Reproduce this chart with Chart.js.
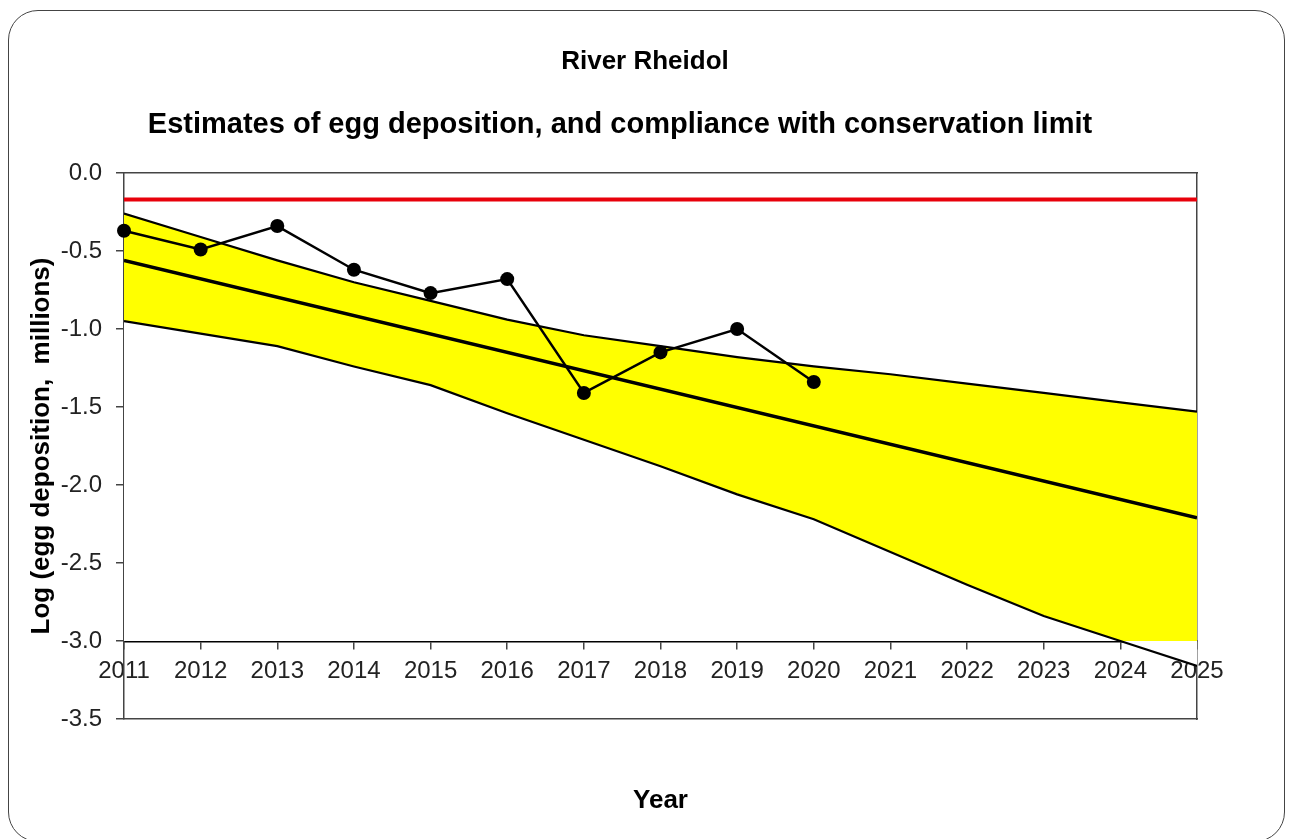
<!DOCTYPE html>
<html>
<head>
<meta charset="utf-8">
<script src="https://cdn.jsdelivr.net/npm/chart.js@4"></script>
<style>
  html, body { margin: 0; padding: 0; background: #fff; }
  #wrap { position: relative; width: 1293px; height: 839px; overflow: hidden; }
  #frame {
    position: absolute; left: 8px; top: 10px; width: 1275px; height: 830px;
    border: 1.5px solid #444; border-radius: 30px; pointer-events: none;
  }
  #eggChart { position: absolute; left: 0; top: 0; }
</style>
</head>
<body>
<div id="wrap">
  <canvas id="eggChart" width="1293" height="839"></canvas>
  <div id="frame"></div>
</div>
<script>
const riverName = "River Rheidol";
const chartTitle = "Estimates of egg deposition, and compliance with conservation limit";

// survey years and the projection out to 2025
const years = [2011, 2012, 2013, 2014, 2015, 2016, 2017, 2018, 2019, 2020, 2021, 2022, 2023, 2024, 2025];

// observed log egg deposition (millions)
const obsYears = [2011, 2012, 2013, 2014, 2015, 2016, 2017, 2018, 2019, 2020];
const obsValues = [-0.37, -0.49, -0.34, -0.62, -0.77, -0.68, -1.41, -1.15, -1.00, -1.34];

// confidence band around the fitted trend
const upperBand = [-0.26, -0.41, -0.56, -0.70, -0.82, -0.94, -1.04, -1.11, -1.18, -1.24, -1.29, -1.35, -1.41, -1.47, -1.53];
const lowerBand = [-0.95, -1.03, -1.11, -1.24, -1.36, -1.54, -1.71, -1.88, -2.06, -2.22, -2.43, -2.64, -2.84, -3.00, -3.16];

// fitted trend (straight line, end points)
const trendYears = [2011, 2025];
const trendValues = [-0.56, -2.21];

// conservation limit
const conservationLimit = -0.17;

const pts = (xs, ys) => xs.map((x, i) => ({ x: x, y: ys[i] }));

// titles drawn straight onto the canvas
const headings = {
  id: "headings",
  afterDraw(chart) {
    const ctx = chart.ctx;
    ctx.save();
    ctx.fillStyle = "#000";
    ctx.textAlign = "center";
    ctx.textBaseline = "middle";
    ctx.font = 'bold 26px "Liberation Sans", Arial, sans-serif';
    ctx.fillText(riverName, 645, 62);
    ctx.font = 'bold 29px "Liberation Sans", Arial, sans-serif';
    ctx.fillText(chartTitle, 620, 125);
    ctx.restore();
  }
};

const tickFont = { family: '"Liberation Sans", Arial, sans-serif', size: 24 };
const axisTitleFont = { family: '"Liberation Sans", Arial, sans-serif', size: 26, weight: "bold" };

new Chart(document.getElementById("eggChart"), {
  type: "line",
  data: {
    datasets: [
      {
        label: "Observed",
        data: pts(obsYears, obsValues),
        borderColor: "#000",
        borderWidth: 2.5,
        pointRadius: 7,
        pointBackgroundColor: "#000",
        pointBorderWidth: 0,
        clip: false,
        fill: false
      },
      {
        label: "Trend",
        data: pts(trendYears, trendValues),
        borderColor: "#000",
        borderWidth: 3.5,
        pointRadius: 0,
        fill: false
      },
      {
        label: "Conservation limit",
        data: pts([years[0], years[years.length - 1]], [conservationLimit, conservationLimit]),
        borderColor: "#e8000b",
        borderWidth: 4,
        pointRadius: 0,
        fill: false
      },
      {
        label: "Lower",
        data: pts(years, lowerBand),
        borderColor: "#000",
        borderWidth: 2.2,
        pointRadius: 0,
        backgroundColor: "#ffffff",
        fill: { value: -3 }
      },
      {
        label: "Upper",
        data: pts(years, upperBand),
        borderColor: "#000",
        borderWidth: 2.2,
        pointRadius: 0,
        backgroundColor: "#ffff00",
        fill: { value: -3 }
      }
    ]
  },
  options: {
    responsive: false,
    animation: false,
    events: [],
    layout: { padding: { top: 173, right: 96, left: 0, bottom: 0 } },
    elements: { line: { tension: 0 } },
    plugins: {
      legend: { display: false },
      tooltip: { enabled: false },
      filler: { drawTime: "beforeDatasetsDraw" }
    },
    scales: {
      x: {
        type: "linear",
        position: { y: -3 },
        min: 2011,
        max: 2025,
        afterFit: (scale) => { scale.height = 0; },
        ticks: {
          stepSize: 1,
          autoSkip: false,
          maxRotation: 0,
          padding: 9,
          color: "#222",
          font: tickFont,
          callback: (v) => String(v)
        },
        grid: { drawOnChartArea: false, tickLength: 7, color: "#444", lineWidth: 1.5 },
        border: { color: "#000", width: 2.5 }
      },
      xBottom: {
        type: "linear",
        position: "bottom",
        min: 0,
        max: 1,
        afterFit: (scale) => { scale.height = 120; },
        ticks: { display: false },
        grid: { display: false },
        border: { color: "#444", width: 1.5 },
        title: { display: true, text: "Year", color: "#000", font: axisTitleFont, padding: { top: 0, bottom: 23 } }
      },
      xTop: {
        type: "linear",
        position: "top",
        min: 0,
        max: 1,
        afterFit: (scale) => { scale.height = 0; },
        ticks: { display: false },
        grid: { display: false },
        border: { color: "#444", width: 1.5 }
      },
      y: {
        position: "left",
        min: -3.5,
        max: 0,
        afterFit: (scale) => { scale.width = 124; },
        ticks: {
          stepSize: 0.5,
          padding: 14,
          color: "#222",
          font: tickFont,
          callback: (v) => Number(v).toFixed(1)
        },
        grid: { drawOnChartArea: false, tickLength: 8, color: "#444", lineWidth: 1.5 },
        border: { color: "#444", width: 1.5 },
        title: {
          display: true,
          text: "Log (egg deposition,  millions)",
          color: "#000",
          font: axisTitleFont,
          padding: { top: 26, bottom: 0 }
        }
      },
      yRight: {
        position: "right",
        min: 0,
        max: 1,
        afterFit: (scale) => { scale.width = 0; },
        ticks: { display: false },
        grid: { display: false },
        border: { color: "#444", width: 1.5 }
      }
    }
  },
  plugins: [headings]
});
</script>
</body>
</html>
